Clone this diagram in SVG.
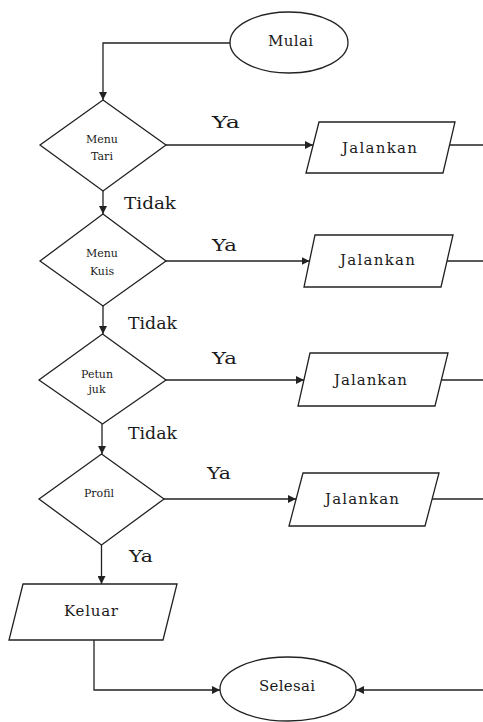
<svg xmlns="http://www.w3.org/2000/svg" width="483" height="722" viewBox="0 0 483 722">
  <style>
    .shape { fill: #ffffff; stroke: #222222; stroke-width: 1.3; }
    .wire { fill: none; stroke: #222222; stroke-width: 1.3; }
    .serif { font-family: "DejaVu Serif", "Liberation Serif", serif; fill: #1a1a1a; }
  </style>
  <defs>
    <marker id="arrow" viewBox="0 0 10 10" refX="10" refY="5" markerWidth="8" markerHeight="8" markerUnits="userSpaceOnUse" orient="auto">
      <path d="M0,0 L10,5 L0,10 Z" fill="#222222"/>
    </marker>
  </defs>
  <rect width="483" height="722" fill="#ffffff"/>

  <!-- connectors -->
  <g id="connectors">
    <polyline class="wire" points="230,43 103,43 103,100" marker-end="url(#arrow)"/>
    <line class="wire" x1="166" y1="145" x2="313" y2="145" marker-end="url(#arrow)"/>
    <line class="wire" x1="449" y1="145" x2="483" y2="145"/>
    <line class="wire" x1="103" y1="191" x2="103" y2="214" marker-end="url(#arrow)"/>
    <line class="wire" x1="166" y1="261" x2="309.5" y2="261" marker-end="url(#arrow)"/>
    <line class="wire" x1="447" y1="261" x2="483" y2="261"/>
    <line class="wire" x1="103" y1="306" x2="103" y2="334" marker-end="url(#arrow)"/>
    <line class="wire" x1="166" y1="380" x2="304" y2="380" marker-end="url(#arrow)"/>
    <line class="wire" x1="441" y1="380" x2="483" y2="380"/>
    <line class="wire" x1="102" y1="424" x2="102" y2="454" marker-end="url(#arrow)"/>
    <line class="wire" x1="164" y1="499" x2="296" y2="499" marker-end="url(#arrow)"/>
    <line class="wire" x1="432" y1="499" x2="483" y2="499"/>
    <line class="wire" x1="101.5" y1="545" x2="101.5" y2="584" marker-end="url(#arrow)"/>
    <polyline class="wire" points="94,640 94,690 220,690" marker-end="url(#arrow)"/>
    <line class="wire" x1="483" y1="690" x2="356" y2="690" marker-end="url(#arrow)"/>
  </g>

  <!-- branch labels -->
  <g id="labels" class="serif" font-size="17">
    <text x="212" y="128" textLength="28" lengthAdjust="spacingAndGlyphs">Ya</text>
    <text x="124" y="209" textLength="52" lengthAdjust="spacingAndGlyphs">Tidak</text>
    <text x="212" y="251" textLength="25" lengthAdjust="spacingAndGlyphs">Ya</text>
    <text x="128" y="329" textLength="49" lengthAdjust="spacingAndGlyphs">Tidak</text>
    <text x="212" y="364" textLength="25" lengthAdjust="spacingAndGlyphs">Ya</text>
    <text x="128" y="439" textLength="49" lengthAdjust="spacingAndGlyphs">Tidak</text>
    <text x="207" y="479" textLength="24" lengthAdjust="spacingAndGlyphs">Ya</text>
    <text x="129" y="562" textLength="24" lengthAdjust="spacingAndGlyphs">Ya</text>
  </g>

  <!-- start -->
  <g id="mulai" class="serif" font-size="15" text-anchor="middle">
    <ellipse class="shape" cx="289" cy="42.5" rx="59" ry="30.5"/>
    <text x="290.5" y="46" textLength="45" lengthAdjust="spacing">Mulai</text>
  </g>

  <!-- decisions -->
  <g id="menu-tari" class="serif" font-size="11" text-anchor="middle">
    <polygon class="shape" points="103,100 166,145 103,191 40,145"/>
    <text x="102" y="143">Menu</text>
    <text x="102" y="160">Tari</text>
  </g>
  <g id="menu-kuis" class="serif" font-size="11" text-anchor="middle">
    <polygon class="shape" points="103,214 166,261 103,306 40,261"/>
    <text x="102" y="257">Menu</text>
    <text x="102" y="275">Kuis</text>
  </g>
  <g id="petunjuk" class="serif" font-size="11" text-anchor="middle">
    <polygon class="shape" points="102.5,334 166,380 102.5,424 39,380"/>
    <text x="97" y="377.5">Petun</text>
    <text x="97" y="393">juk</text>
  </g>
  <g id="profil" class="serif" font-size="11" text-anchor="middle">
    <polygon class="shape" points="101.5,454 164,499 101.5,545 39,499"/>
    <text x="99" y="497">Profil</text>
  </g>

  <!-- actions -->
  <g id="jalankan-tari" class="serif" font-size="15" text-anchor="middle">
    <polygon class="shape" points="319,122 455,122 443,173 306,173"/>
    <text x="379.5" y="153" textLength="75" lengthAdjust="spacing">Jalankan</text>
  </g>
  <g id="jalankan-kuis" class="serif" font-size="15" text-anchor="middle">
    <polygon class="shape" points="315,235 453,235 441,287 304,287"/>
    <text x="377.5" y="265" textLength="75" lengthAdjust="spacing">Jalankan</text>
  </g>
  <g id="jalankan-petunjuk" class="serif" font-size="15" text-anchor="middle">
    <polygon class="shape" points="310,353 448,353 435,406 298,406"/>
    <text x="370.5" y="385" textLength="73" lengthAdjust="spacing">Jalankan</text>
  </g>
  <g id="jalankan-profil" class="serif" font-size="15" text-anchor="middle">
    <polygon class="shape" points="303,473 439,473 425,526 289,526"/>
    <text x="362" y="504" textLength="74" lengthAdjust="spacing">Jalankan</text>
  </g>
  <g id="keluar" class="serif" font-size="15" text-anchor="middle">
    <polygon class="shape" points="23,584 177,584 163,640 9,640"/>
    <text x="91" y="616" textLength="54" lengthAdjust="spacing">Keluar</text>
  </g>

  <!-- end -->
  <g id="selesai" class="serif" font-size="15" text-anchor="middle">
    <ellipse class="shape" cx="288" cy="689" rx="68" ry="32"/>
    <text x="287" y="691" textLength="56" lengthAdjust="spacing">Selesai</text>
  </g>
</svg>
